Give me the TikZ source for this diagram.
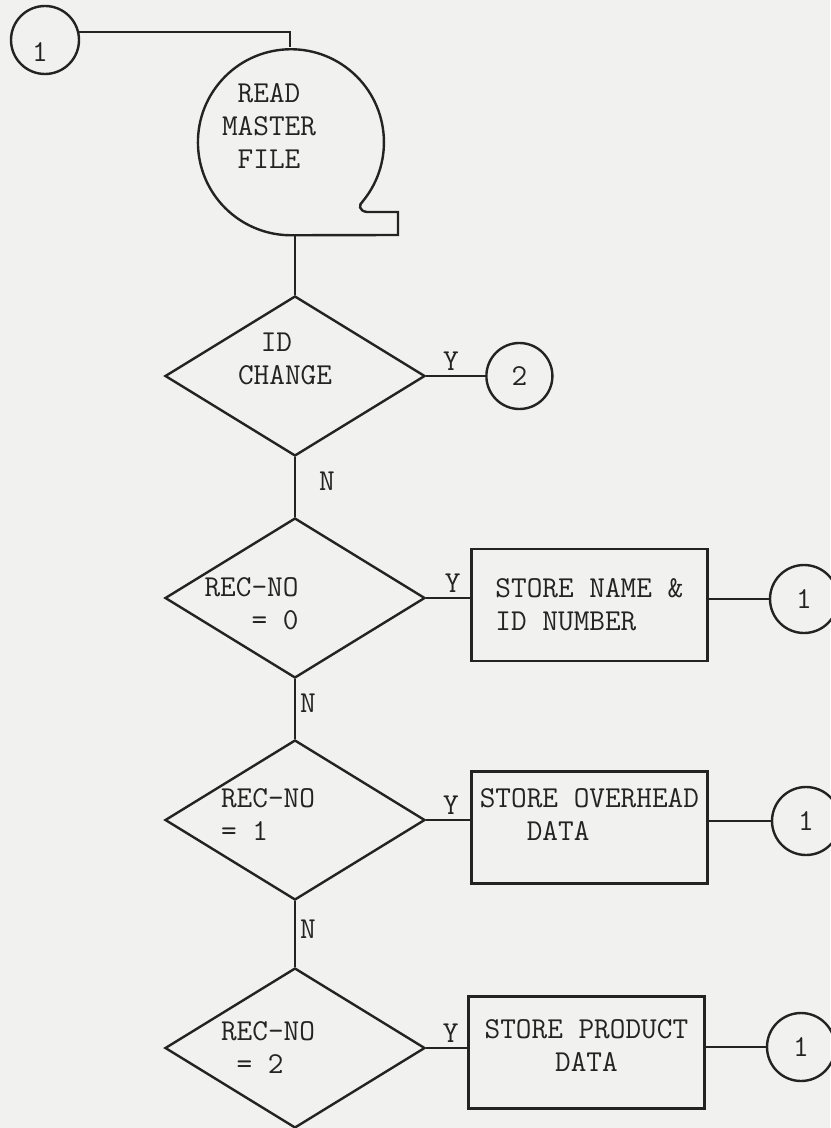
\documentclass[tikz,border=0pt]{standalone}
\usepackage{tikz}
\usetikzlibrary{shapes.geometric, positioning}

\definecolor{paper}{RGB}{241,241,239}
\definecolor{ink}{RGB}{35,35,35}

\begin{document}
\begin{tikzpicture}[
    x=0.5pt, y=-0.5pt,
    line width=1.2pt, color=ink,
    every node/.style={font=\ttfamily\fontsize{15.2}{16.5}\selectfont},
    connector/.style={draw, circle, minimum size=34pt, inner sep=0pt},
    decision/.style={draw, diamond, minimum width=130pt, minimum height=80pt, inner sep=0pt},
    process/.style={draw, rectangle, align=left, minimum width=118pt, minimum height=56pt, inner sep=2pt},
    tapefile/.style={circle, minimum size=93pt, inner sep=0pt},
    flag/.style={inner sep=2pt}
]

% sheet
\useasboundingbox (0,0) rectangle (830,1128);
\fill[paper] (0,0) rectangle (830,1128);

\node[connector, label={[xshift=-2.5pt, yshift=-6pt]center:1}] (start) at (45,40) {};
\node[tapefile, label={[align=center, xshift=-10.5pt, yshift=7.75pt]center:READ\\MASTER\\FILE}] (tape) at (290,141.5) {};
\draw (tape.-39) arc[start angle=-39, end angle=270, radius=46.5pt]
    -- (398,235) -- (398,212) -- (367,212)
    .. controls (359,211) and (358,205) .. (tape.-39);

\node[decision, label={[align=left, xshift=-5pt, yshift=8.5pt]center:\hspace*{0.75em}ID\\CHANGE}] (idchg) at (295,376) {};
\node[connector, minimum size=33pt, right=29.5pt of idchg] (exit) {2};

\node[decision, label={[align=right, xshift=-21.75pt, yshift=-3pt]center:REC-NO\\= 0}] (rec0) at (295,598) {};
\node[process, right=22pt of rec0, yshift=-3.5pt] (storeid) {STORE NAME \&\\ID NUMBER};
\node[connector] (back0) at (804,599) {1};

\node[decision, label={[align=left, xshift=-13.5pt, yshift=2.5pt]center:REC-NO\\= 1}] (rec1) at (295,820) {};
\node[process, right=22pt of rec1, yshift=-3.75pt, text depth=13pt] (storeoh) {STORE OVERHEAD\\\phantom{STO}DATA};
\node[connector] (back1) at (806,821) {1};

\node[decision, label={[align=left, xshift=-13.5pt]center:REC-NO\\\phantom{R}= 2}] (rec2) at (295,1048) {};
\node[process, align=center, right=20.5pt of rec2, yshift=-2.25pt, text depth=7pt] (storeprod) {STORE PRODUCT\\DATA};
\node[connector] (back2) at (801,1047) {1};

% Flow lines
\draw (start.13) -| (tape.north);
\draw (tape.south -| idchg.north) -- (idchg.north);
\draw (idchg.east) -- node[flag, above, pos=0.42] {Y} (exit);
\draw (idchg.south) -- node[flag, right, pos=0.41, xshift=9.5pt] {N} (rec0.north);

\draw (rec0.east) -- node[flag, above, pos=0.6] {Y} (rec0.east -| storeid.west);
\draw (storeid.east |- back0) -- (back0);
\draw (rec0.south) -- node[flag, right, pos=0.41] {N} (rec1.north);

\draw (rec1.east) -- node[flag, above, pos=0.56] {Y} (rec1.east -| storeoh.west);
\draw (storeoh.east |- back1) -- (back1);
\draw (rec1.south) -- node[flag, right, pos=0.42] {N} (rec2.north);

\draw (rec2.east) -- node[flag, above, pos=0.6] {Y} (rec2.east -| storeprod.west);
\draw (storeprod.east |- back2) -- (back2);

\end{tikzpicture}
\end{document}
